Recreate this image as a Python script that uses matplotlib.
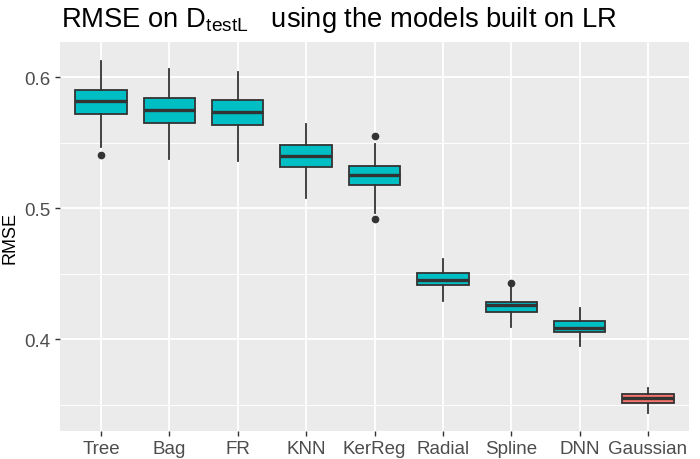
import matplotlib
matplotlib.use("Agg")
from matplotlib import pyplot as plt

plt.rcParams['font.family'] = ['Liberation Sans', 'DejaVu Sans']
plt.rcParams['mathtext.fontset'] = 'custom'
plt.rcParams['mathtext.rm'] = 'Liberation Sans'

# data (RMSE per model)
models = ["Tree", "Bag", "FR", "KNN", "KerReg", "Radial", "Spline", "DNN", "Gaussian"]
whislo = [0.5470, 0.5379, 0.5363, 0.5081, 0.4966, 0.4295, 0.4096, 0.3949, 0.3440]
q1     = [0.5718, 0.5649, 0.5634, 0.5315, 0.5176, 0.4415, 0.4206, 0.4053, 0.3511]
med    = [0.5821, 0.5750, 0.5737, 0.5399, 0.5256, 0.4455, 0.4264, 0.4086, 0.3554]
q3     = [0.5901, 0.5840, 0.5824, 0.5481, 0.5321, 0.4504, 0.4287, 0.4137, 0.3580]
whishi = [0.6122, 0.6063, 0.6040, 0.5641, 0.5491, 0.4611, 0.4397, 0.4239, 0.3628]
outliers = [[0.5405], [], [], [], [0.5550, 0.4916], [], [0.4427], [], []]
highlight = ["Gaussian"]

stats = []
for i, m in enumerate(models):
    stats.append(dict(label=m, whislo=whislo[i], q1=q1[i], med=med[i],
                      q3=q3[i], whishi=whishi[i], fliers=outliers[i]))

fig = plt.figure(figsize=(7, 4.6), dpi=100)
ax = fig.add_axes([60 / 700, 1 - 432 / 460, 629 / 700, (432 - 43.3) / 460])
ax.set_facecolor("#EBEBEB")

edge = "#333333"
bp = ax.bxp(stats, positions=range(1, len(models) + 1), widths=0.75,
            patch_artist=True, showcaps=False,
            boxprops=dict(edgecolor=edge, linewidth=1.3),
            whiskerprops=dict(color=edge, linewidth=1.3),
            medianprops=dict(color=edge, linewidth=2.4),
            flierprops=dict(marker="o", markerfacecolor=edge, markeredgecolor=edge,
                            markersize=4.5))
for patch, m in zip(bp["boxes"], models):
    patch.set_facecolor("#F8766D" if m in highlight else "#00BFC4")
    patch.set_zorder(3)
for k in ("whiskers", "medians", "fliers"):
    for a in bp[k]:
        a.set_zorder(4)

ax.set_xlim(0.4, len(models) + 0.6)
ax.set_ylim(0.3300, 0.6267)
ax.set_yticks([0.4, 0.5, 0.6])
ax.set_yticklabels(["0.4", "0.5", "0.6"])
ax.set_yticks([0.35, 0.45, 0.55], minor=True)
ax.grid(True, which="major", color="white", linewidth=1.3, zorder=0)
ax.grid(True, which="minor", axis="y", color="white", linewidth=0.65, zorder=0)
ax.set_axisbelow(True)
for s in ax.spines.values():
    s.set_visible(False)
ax.tick_params(axis="both", which="major", length=3.8, width=1.0, color=edge,
               labelsize=13.5, labelcolor="#4D4D4D", pad=3)
ax.tick_params(axis="y", which="minor", length=0)
ax.set_ylabel("RMSE", fontsize=13, color="black", labelpad=4)

fig.text(61 / 700, 1 - 27 / 460,
         r"RMSE on D$_{\mathregular{testL}}$   using the models built on LR",
         fontsize=19.7, ha="left", va="baseline", color="black")

fig.savefig("out.png", dpi=100)
